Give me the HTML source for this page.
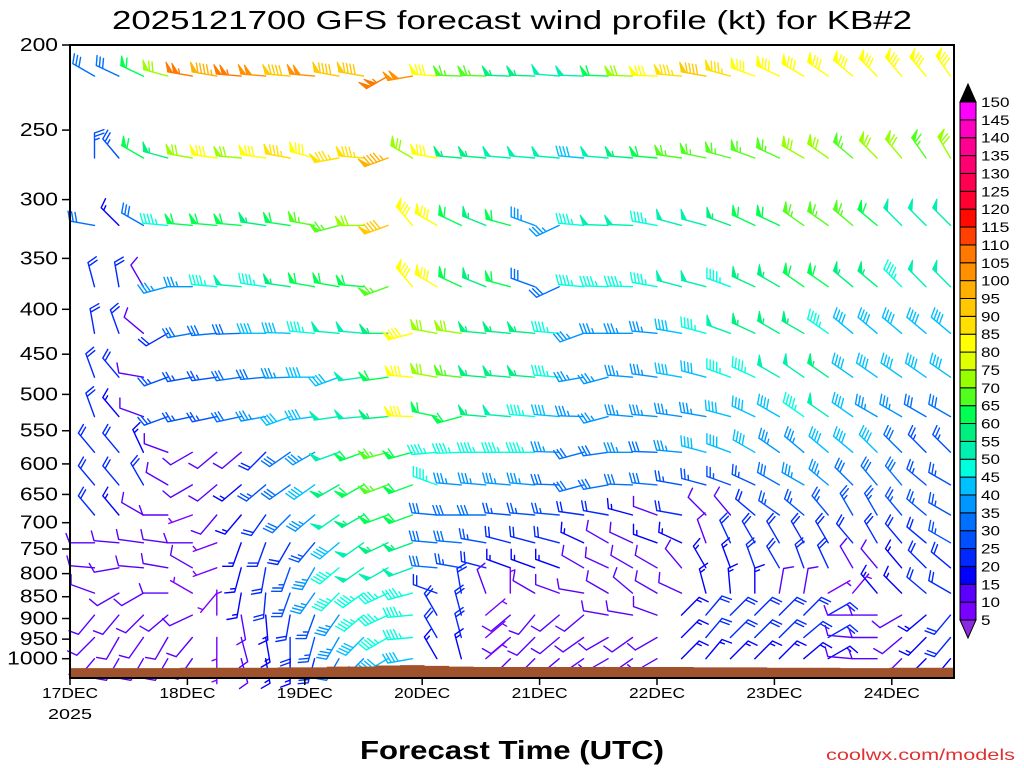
<!DOCTYPE html>
<html><head><meta charset="utf-8"><title>GFS wind profile</title>
<style>
html,body{margin:0;padding:0;background:#fff;}
svg{display:block;font-family:"Liberation Sans",sans-serif;}
</style></head>
<body>
<svg id="chart" width="1024" height="768" viewBox="0 0 1024 768" xmlns="http://www.w3.org/2000/svg">
<rect x="0" y="0" width="1024" height="768" fill="#fff"/>
<text x="512" y="29" text-anchor="middle" font-size="26" textLength="800" lengthAdjust="spacingAndGlyphs" fill="#000">2025121700 GFS forecast wind profile (kt) for KB#2</text>
<g id="barbs"></g>
<g id="terrain"></g>
<rect x="70" y="45" width="884" height="633" fill="none" stroke="#000" stroke-width="2"/>
<g id="yaxis"></g>
<g id="xaxis"></g>
<g id="colorbar"></g>
<text x="512" y="759" text-anchor="middle" font-size="26" font-weight="bold" textLength="304" lengthAdjust="spacingAndGlyphs" fill="#000">Forecast Time (UTC)</text>
<text x="1015" y="760" text-anchor="end" font-size="16" textLength="189" lengthAdjust="spacingAndGlyphs" fill="#e03030">coolwx.com/models</text>
</svg>
<script>
const NS = "http://www.w3.org/2000/svg";
const hours = [5,10,15,20,25,30,35,40,45,50,55,60,65,70,75,80,85,90,95,100,105,110,115,120,125,130,135,140,145,150,155,160,165,170,175,180];
const levels = [217,269,321,377,426,478,530,582,634,686,738,788,842,892,946,1000];
const pressureTicks = [200,250,300,350,400,450,500,550,600,650,700,750,800,850,900,950,1000];
const dayLabels = ["17DEC","18DEC","19DEC","20DEC","21DEC","22DEC","23DEC","24DEC"];
const cbValues = [5,10,15,20,25,30,35,40,45,50,55,60,65,70,75,80,85,90,95,100,105,110,115,120,125,130,135,140,145,150];
const cbColors = ["#7a00ff","#5a00ff","#0000ff","#0028ff","#0050ff","#0070ff","#0096ff","#00c0ff","#00ffdc","#00f0b0","#00f080","#00ff50","#50ff1e","#98ff00","#e0ff00","#ffff00","#ffe000","#ffc800","#ffb000","#ff9000","#ff7800","#ff4000","#ff0a00","#ff0030","#ff0050","#ff0070","#ff0090","#ff00c0","#ff00ff"];
const surfacePressure = [1025,1025,1025,1025,1024,1024,1024,1024,1023,1023,1021,1021,1018,1017,1019,1021,1022,1022,1022,1022,1022,1022,1022,1022,1022,1023,1023,1023,1024,1024,1024,1025,1025,1024,1024,1024];

const spd217=[30,30,60,70,105,95,105,100,90,100,90,90,105,100,80,65,65,55,55,50,50,60,70,80,85,90,85,80,80,80,80,80,80,80,80,80];
const dir217=[300,295,295,285,280,280,275,275,275,275,280,280,240,260,275,272,272,272,272,275,272,272,272,272,275,280,285,290,295,300,305,310,315,320,320,325];
const spd269=[25,25,60,55,70,80,70,80,85,80,85,85,95,70,80,55,55,50,50,50,40,50,55,60,65,65,65,65,65,70,70,65,70,70,65,70];
const dir269=[0,320,300,285,280,278,275,278,280,285,260,275,250,300,280,275,275,275,275,275,275,275,275,275,278,282,285,290,295,300,305,310,315,320,325,330];
const spd321=[30,15,30,45,60,60,60,55,60,65,65,70,90,80,80,60,55,60,35,35,45,50,50,45,50,50,55,60,60,65,65,65,60,50,50,50];
const dir321=[280,315,300,275,275,275,275,278,278,280,255,270,250,320,300,295,292,285,290,245,275,272,272,280,285,285,290,295,295,305,305,310,310,315,315,315];
const spd377=[20,20,10,35,35,45,50,45,55,60,60,60,65,80,80,60,55,60,30,30,45,45,45,45,50,50,45,55,55,60,60,55,55,45,50,50];
const dir377=[345,350,330,255,270,275,275,278,278,280,280,275,250,320,300,295,292,285,290,245,275,272,272,280,285,285,290,295,300,305,305,310,310,315,315,315];
const spd426=[20,20,10,20,30,30,30,40,40,45,50,50,55,80,70,70,55,55,55,45,35,35,35,35,40,45,50,55,55,55,45,40,40,40,40,40];
const dir426=[350,340,310,240,260,265,268,270,272,275,275,275,270,255,280,278,275,275,275,275,250,270,270,275,280,285,290,295,300,300,305,310,310,310,310,310];
const spd478=[20,20,10,25,25,25,30,30,35,40,40,50,60,80,70,65,55,55,55,45,35,35,35,35,40,40,45,45,50,50,55,40,40,40,40,40];
const dir478=[340,320,280,250,260,262,262,265,268,270,250,262,262,275,280,276,275,275,275,275,260,255,275,278,280,285,290,295,300,305,305,305,305,305,305,305];
const spd530=[20,15,10,25,25,25,30,35,40,40,50,50,55,80,60,60,55,50,45,40,35,35,35,35,35,35,40,40,40,45,50,40,35,35,30,30];
const dir530=[340,320,290,250,258,258,258,260,250,262,262,265,265,272,282,255,275,275,275,275,272,255,275,275,278,280,285,295,300,305,305,305,300,300,300,300];
const spd582=[20,20,15,10,10,10,10,20,30,35,50,60,65,60,45,45,45,45,45,35,30,30,35,30,35,40,40,40,35,35,40,40,40,30,25,25];
const dir582=[320,320,335,290,240,230,230,225,235,240,250,250,255,255,265,268,270,270,270,272,255,262,270,272,275,285,290,300,305,310,310,310,315,315,315,315];
const spd634=[20,20,20,10,10,10,15,25,30,40,55,60,65,60,45,35,35,35,35,30,30,30,30,30,25,25,25,25,30,35,35,30,30,30,25,25];
const dir634=[320,320,330,300,240,230,230,230,235,235,240,240,250,250,290,275,275,275,275,272,255,260,272,275,280,285,290,295,300,300,310,315,320,320,310,300];
const spd686=[20,15,10,10,5,10,15,20,30,35,50,55,60,60,30,30,30,25,25,25,20,20,15,10,20,10,10,20,25,25,25,25,25,25,25,25];
const dir686=[320,320,300,270,250,220,220,215,225,230,235,240,250,250,275,270,270,275,275,275,278,280,285,290,280,315,320,310,305,310,320,330,330,320,310,300];
const spd738=[10,10,10,10,10,5,15,20,20,25,40,50,55,55,30,30,25,20,20,20,15,10,10,15,15,10,20,20,20,20,20,20,20,20,20,25];
const dir738=[270,275,278,278,270,250,200,200,210,220,230,235,245,250,275,275,280,285,285,285,295,300,295,290,295,340,335,330,330,330,330,320,330,320,310,300];
const spd788=[10,10,10,10,10,5,15,20,25,35,45,50,50,50,30,25,20,15,15,15,10,10,10,10,10,15,15,20,20,20,20,10,10,15,20,20];
const dir788=[275,260,275,280,300,250,195,190,200,210,230,235,240,250,275,280,285,290,290,290,300,295,300,300,320,330,340,340,330,340,335,330,320,320,315,310];
const spd842=[10,10,10,10,5,5,15,20,25,35,45,45,45,45,20,20,10,5,10,10,10,10,10,10,10,15,15,15,10,10,5,5,15,15,20,20];
const dir842=[290,240,240,270,300,220,190,185,200,215,225,235,245,255,290,350,340,0,300,290,280,300,310,300,295,345,355,0,10,10,60,40,320,315,310,300];
const spd892=[10,10,10,10,10,5,10,15,20,25,35,45,45,45,20,20,5,10,10,10,10,10,10,10,15,20,20,20,20,20,20,10,10,10,15,20];
const dir892=[220,220,225,230,245,0,170,175,190,200,215,230,245,265,330,345,50,230,220,230,230,280,280,290,45,40,45,45,45,45,60,270,270,240,230,220];
const spd946=[10,10,10,10,10,5,10,15,20,25,35,40,45,45,20,20,5,10,10,10,10,10,10,10,15,20,20,20,20,20,20,10,10,10,15,20];
const dir946=[225,210,215,210,220,180,165,170,180,195,210,225,240,265,330,345,50,230,225,230,235,240,235,240,45,40,45,45,45,50,60,275,270,230,225,220];
const spd1000=[10,10,10,10,10,5,10,15,15,20,30,35,40,40,15,15,5,10,10,10,10,10,10,10,15,15,15,15,15,15,15,10,10,10,15,15];
const dir1000=[220,210,210,210,215,180,165,170,180,195,210,225,240,260,330,345,50,225,225,230,235,240,235,240,45,40,45,45,45,50,60,275,270,225,225,220];

const speedRows = [spd217,spd269,spd321,spd377,spd426,spd478,spd530,spd582,spd634,spd686,spd738,spd788,spd842,spd892,spd946,spd1000];
const dirRows = [dir217,dir269,dir321,dir377,dir426,dir478,dir530,dir582,dir634,dir686,dir738,dir788,dir842,dir892,dir946,dir1000];

const X0 = 70, DAY = 117.4, Y0 = 45, K = 878;
function xT(h){ return X0 + h/24*DAY; }
function yP(p){ return Y0 + K*Math.log10(p/200); }
function colorFor(s){
  if (s < 5) return "#8a2be2";
  const idx = Math.min(cbColors.length-1, Math.floor((s-5)/5));
  return cbColors[idx];
}
function mk(tag, attrs, parent){
  const el = document.createElementNS(NS, tag);
  for (const k in attrs) el.setAttribute(k, attrs[k]);
  parent.appendChild(el);
  return el;
}

// Barbs
const gB = document.getElementById("barbs");
const L = 25;
function drawBarb(x, y, spd, dir){
  const col = colorFor(spd);
  const g = document.createElementNS(NS, "g");
  
  
  gB.appendChild(g);
  const r = dir*Math.PI/180;
  const ux = Math.sin(r), uy = -Math.cos(r);
  const px = -uy, py = ux;
  const a = 70*Math.PI/180;
  const fx = px*Math.sin(a) + ux*Math.cos(a), fy = py*Math.sin(a) + uy*Math.cos(a);
  const tx = x + L*ux, ty = y + L*uy;
  let d = `M${x.toFixed(1)},${y.toFixed(1)}L${tx.toFixed(1)},${ty.toFixed(1)}`;
  let s = Math.round(spd/5)*5;
  let pos = 0;
  let fills = "";
  while (s >= 50){
    const ax = tx - pos*ux, ay = ty - pos*uy;
    const bx = ax - 5*ux, by = ay - 5*uy;
    fills += `M${ax.toFixed(1)},${ay.toFixed(1)}L${(ax+10*fx).toFixed(1)},${(ay+10*fy).toFixed(1)}L${bx.toFixed(1)},${by.toFixed(1)}Z`;
    pos += 6; s -= 50;
  }
  const onlyHalf = (s === 5 && pos === 0);
  while (s >= 10){
    const ax = tx - pos*ux, ay = ty - pos*uy;
    d += `M${ax.toFixed(1)},${ay.toFixed(1)}L${(ax+10*fx).toFixed(1)},${(ay+10*fy).toFixed(1)}`;
    pos += 3.5; s -= 10;
  }
  if (s >= 5){
    if (onlyHalf) pos = 3.5;
    const ax = tx - pos*ux, ay = ty - pos*uy;
    d += `M${ax.toFixed(1)},${ay.toFixed(1)}L${(ax+5*fx).toFixed(1)},${(ay+5*fy).toFixed(1)}`;
  }
  const p1 = mk("path", {d:d, stroke:col, "stroke-width":"1.4", fill:"none", "stroke-linecap":"round"}, g);
  
  
  if (fills){
    const p2 = mk("path", {d:fills, fill:col, stroke:col, "stroke-width":"1"}, g);
    
    
  }
}
for (let li = 0; li < levels.length; li++){
  for (let i = 0; i < hours.length; i++){
    drawBarb(xT(hours[i]), yP(levels[li]), speedRows[li][i], dirRows[li][i]);
  }
}

// Terrain
const gT = document.getElementById("terrain");
let td = `M${X0},678`;
for (let i = 0; i < hours.length; i++){
  const xl = i === 0 ? X0 : (xT(hours[i-1]) + xT(hours[i]))/2;
  const xr = i === hours.length-1 ? 954 : (xT(hours[i]) + xT(hours[i+1]))/2;
  const yt = Math.min(678, yP(surfacePressure[i]));
  td += `L${xl.toFixed(1)},${yt.toFixed(1)}L${xr.toFixed(1)},${yt.toFixed(1)}`;
}
td += `L954,678Z`;
const terr = mk("path", {d:td, fill:"#a0522d", stroke:"none"}, gT);



// Y axis
const gY = document.getElementById("yaxis");
pressureTicks.forEach(p => {
  const y = yP(p);
  const t = mk("line", {x1:62, x2:70, y1:y, y2:y, stroke:"#000", "stroke-width":"1.5"}, gY);
  
  
  const lab = String(p);
  const tx = mk("text", {x:58, y:y+6, "text-anchor":"end", "font-size":"18", fill:"#000", textLength:(lab.length*12.7).toFixed(1), lengthAdjust:"spacingAndGlyphs"}, gY);
  tx.textContent = lab;
  
  
});

// X axis
const gX = document.getElementById("xaxis");
dayLabels.forEach((lab, d) => {
  const x = X0 + d*DAY;
  const t = mk("line", {x1:x, x2:x, y1:678, y2:685, stroke:"#000", "stroke-width":"1.5"}, gX);
  
  
  const tx = mk("text", {x:x, y:698, "text-anchor":"middle", "font-size":"15", fill:"#000", textLength:"56", lengthAdjust:"spacingAndGlyphs"}, gX);
  tx.textContent = lab;
  
  
});
const yr = mk("text", {x:X0, y:719, "text-anchor":"middle", "font-size":"15", fill:"#000", textLength:"44", lengthAdjust:"spacingAndGlyphs"}, gX);
yr.textContent = "2025";



// Colorbar
const gC = document.getElementById("colorbar");
const cbTop = 102, cbBot = 620, cbX = 960, cbW = 16;
const step = (cbBot - cbTop)/(cbValues.length-1);
function yCb(v){ return cbBot - (v-5)/5*step; }
cbColors.forEach((c, i) => {
  const v0 = cbValues[i], v1 = cbValues[i+1];
  const r = mk("rect", {x:cbX, y:yCb(v1), width:cbW, height:step, fill:c, stroke:"#000", "stroke-width":"1"}, gC);
  
  
});
const triTop = mk("path", {d:`M${cbX},${cbTop}L${cbX+cbW/2},${cbTop-18}L${cbX+cbW},${cbTop}Z`, fill:"#000", stroke:"#000"}, gC);


const triBot = mk("path", {d:`M${cbX},${cbBot}L${cbX+cbW/2},${cbBot+18}L${cbX+cbW},${cbBot}Z`, fill:"#8a2be2", stroke:"#000"}, gC);


cbValues.forEach(v => {
  const lab = String(v);
  const t = mk("text", {x:981, y:yCb(v)+5, "font-size":"14", fill:"#000", textLength:(lab.length*9.5).toFixed(1), lengthAdjust:"spacingAndGlyphs"}, gC);
  t.textContent = lab;
  
  
});
</script>
</body></html>
